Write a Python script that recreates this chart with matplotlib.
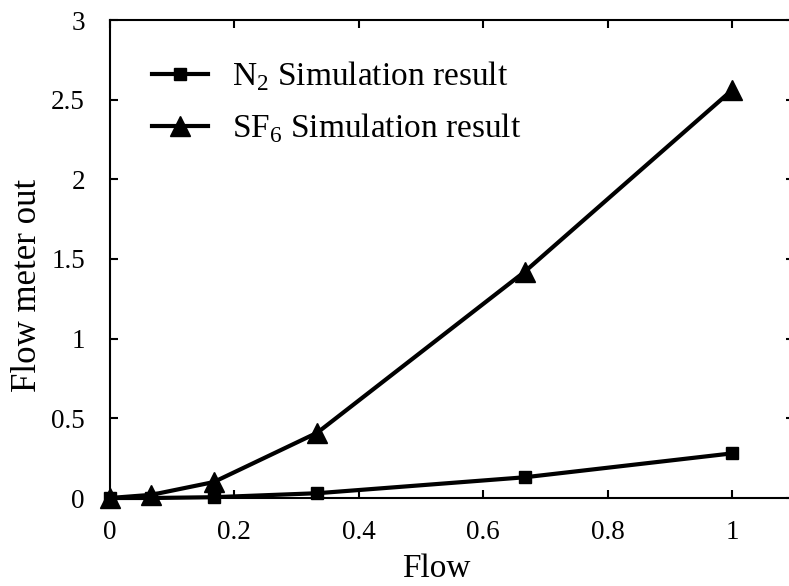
import matplotlib
matplotlib.use('Agg')
import matplotlib.pyplot as plt

# flow values (normalised)
flow = [0, 0.0667, 0.1667, 0.3333, 0.6667, 1.0]
# meter output for each gas
n2_out = [0, 0.0, 0.005, 0.03, 0.13, 0.28]
sf6_out = [0, 0.02, 0.10, 0.41, 1.42, 2.56]

plt.rcParams['font.family'] = ['Liberation Serif', 'DejaVu Serif']
plt.rcParams['mathtext.fontset'] = 'custom'
plt.rcParams['mathtext.rm'] = 'Liberation Serif'

W, H = 789, 586
fig = plt.figure(figsize=(W / 100, H / 100), dpi=100)
# axes box: x=0 at 110 px, x=1.1 runs past the right edge
left, right, top, bottom = 110, 110 + 1.1 * 622, 20, 498
ax = fig.add_axes([left / W, 1 - bottom / H, (right - left) / W, (bottom - top) / H])

ax.plot(flow, n2_out, color='black', lw=3, marker='s', ms=9,
        label=r'N$_2$ Simulation result', clip_on=False, zorder=3)
ax.plot(flow, sf6_out, color='black', lw=3, marker='^', ms=14,
        label=r'SF$_6$ Simulation result', clip_on=False, zorder=3)

ax.set_xlim(0, 1.1)
ax.set_ylim(0, 3)
ax.set_xticks([0, 0.2, 0.4, 0.6, 0.8, 1])
ax.set_xticklabels(['0', '0.2', '0.4', '0.6', '0.8', '1'])
ax.set_yticks([0, 0.5, 1, 1.5, 2, 2.5, 3])
ax.set_yticklabels(['0', '0.5', '1', '1.5', '2', '2.5', '3'])
ax.tick_params(direction='in', length=6, width=1.5, top=True, right=True,
               labelsize=19.5)
ax.tick_params(axis='x', pad=16)
ax.tick_params(axis='y', pad=18)
for s in ax.spines.values():
    s.set_linewidth(1.5)

ax.set_xlabel('Flow', fontsize=24)
ax.set_ylabel('Flow meter out', fontsize=25)
ax.xaxis.set_label_coords(0.477, -0.117)
ax.yaxis.set_label_coords(-0.096, 0.444)

ax.legend(loc='upper left', bbox_to_anchor=(0.061, 0.918), frameon=False,
          fontsize=24, handlelength=1.7, handletextpad=0.7, labelspacing=0.55,
          borderpad=0, borderaxespad=0)

fig.savefig('out.png', dpi=100)
